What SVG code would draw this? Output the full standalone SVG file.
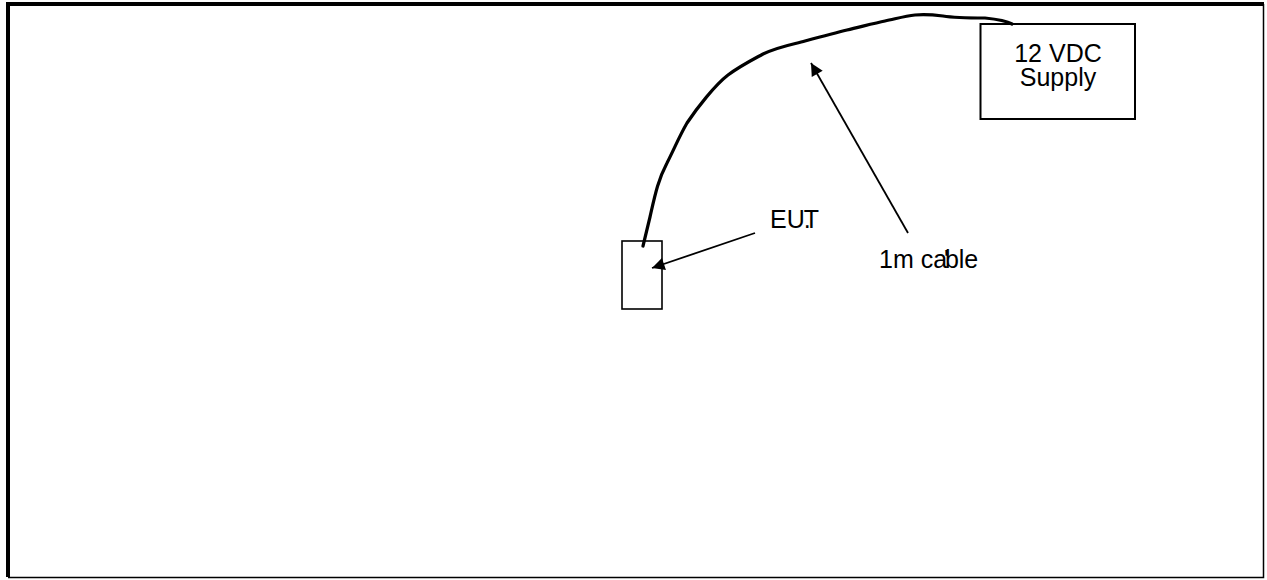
<svg xmlns="http://www.w3.org/2000/svg" width="1267" height="580" viewBox="0 0 1267 580">
  <style>
    .lbl { font-family: "Liberation Sans", Arial, sans-serif; font-size: 25px; fill: #000; }
    .box { fill: #fff; stroke: #000; }
    .lead { stroke: #000; stroke-width: 1.8; fill: none; }
  </style>
  <defs>
    <marker id="ah" viewBox="0 0 10 10" refX="10" refY="5" markerWidth="8" markerHeight="7" markerUnits="strokeWidth" orient="auto">
      <path d="M0,0 L10,5 L0,10 z" fill="#000"/>
    </marker>
  </defs>
  <rect x="0" y="0" width="1267" height="580" fill="#fff"/>
  <g id="frame">
    <path d="M8,577 L8,4 L1264,4" fill="none" stroke="#000" stroke-width="4"/>
    <path d="M1263.5,4 L1263.5,577.5 L8,577.5" fill="none" stroke="#000" stroke-width="1.5"/>
  </g>
  <g id="eut">
    <rect class="box" x="622" y="241" width="40" height="68" stroke-width="1.6"/>
  </g>
  <g id="supply">
    <rect class="box" x="980.5" y="24" width="154.5" height="95" stroke-width="2"/>
    <text class="lbl" x="1058" y="62" text-anchor="middle" font-size="26">12 VDC</text>
    <text class="lbl" x="1058" y="86" text-anchor="middle" font-size="26">Supply</text>
  </g>
  <g id="connectors">
    <path d="M643,246 L650,217 C655,195 658,180 667,163 C675,147 680,135 687,123 C697,108 715,85 728,75 C740,66 752,60 763,54 C780,46 795,44 805,41 C820,37 835,33 847,30 C860,27 875,23 885,21 C895,19 905,16 915,15 C925,14 935,15 943,16 C955,18 970,18 985,18 C995,19 1005,20 1012,24" fill="none" stroke="#000" stroke-width="3.2" stroke-linecap="round" stroke-linejoin="round"/>
    <line class="lead" x1="755" y1="233" x2="652" y2="268" marker-end="url(#ah)"/>
    <line class="lead" x1="908" y1="233" x2="811" y2="63" marker-end="url(#ah)"/>
  </g>
  <g id="labels">
    <text class="lbl" x="770" y="228" font-size="24">EU<tspan dx="-1">.</tspan><tspan dx="-7">T</tspan></text>
    <text class="lbl" x="879" y="268">1m ca<tspan dx="-3">'</tspan><tspan dx="-4">ble</tspan></text>
  </g>
</svg>
